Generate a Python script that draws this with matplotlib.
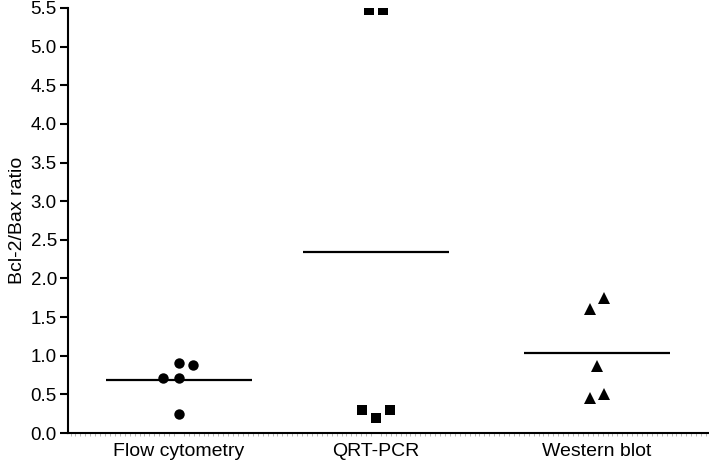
import numpy as np
import matplotlib.pyplot as plt
from matplotlib.ticker import MultipleLocator

plt.rcParams['font.family'] = ['Liberation Sans', 'DejaVu Sans']

groups = ['Flow cytometry', 'QRT-PCR', 'Western blot']
flow = [0.71, 0.71, 0.91, 0.88, 0.25]
qrt = [5.47, 5.47, 0.30, 0.19, 0.30]
western = [1.75, 1.60, 0.87, 0.45, 0.50]
data = [flow, qrt, western]

# horizontal jitter of each point (in x units)
offsets = [[-0.08, 0.0, 0.0, 0.07, 0.0],
           [-0.035, 0.035, -0.07, 0.0, 0.07],
           [0.035, -0.035, 0.0, -0.035, 0.035]]
markers = ['o', 's', '^']
msizes = [7.5, 7.0, 8.0]
xpos = [1.0, 2.0, 3.12]

fig = plt.figure(figsize=(7.09, 4.65), dpi=100)
ax = fig.add_axes([68/709, 32/465, 641/709, 425/465])

for i, vals in enumerate(data):
    xs = xpos[i] + np.array(offsets[i])
    ax.plot(xs, vals, linestyle='none', marker=markers[i], color='black',
            markersize=msizes[i], markeredgewidth=0)
    m = np.mean(vals)
    ax.plot([xpos[i]-0.37, xpos[i]+0.37], [m, m], color='black', linewidth=1.6,
            solid_capstyle='butt')

ax.set_xlim(0.437, 3.69)
ax.set_ylim(0, 5.5)
ax.set_yticks(np.arange(0, 5.51, 0.5))
ax.set_yticklabels(['%.1f' % v for v in np.arange(0, 5.51, 0.5)])
ax.set_xticks(xpos)
ax.set_xticklabels(groups)
ax.set_ylabel('Bcl-2/Bax ratio', fontsize=14, labelpad=3)

for s in ['top', 'right']:
    ax.spines[s].set_visible(False)
for s in ['left', 'bottom']:
    ax.spines[s].set_linewidth(1.5)

ax.tick_params(axis='y', direction='out', length=6, width=1.5, labelsize=13.5, pad=2)
ax.tick_params(axis='x', length=0, labelsize=14, pad=7)
ax.xaxis.set_minor_locator(MultipleLocator(0.025))
ax.tick_params(axis='x', which='minor', direction='out', length=2, width=0.5, color='#999999')

plt.savefig('out.png', dpi=100)
